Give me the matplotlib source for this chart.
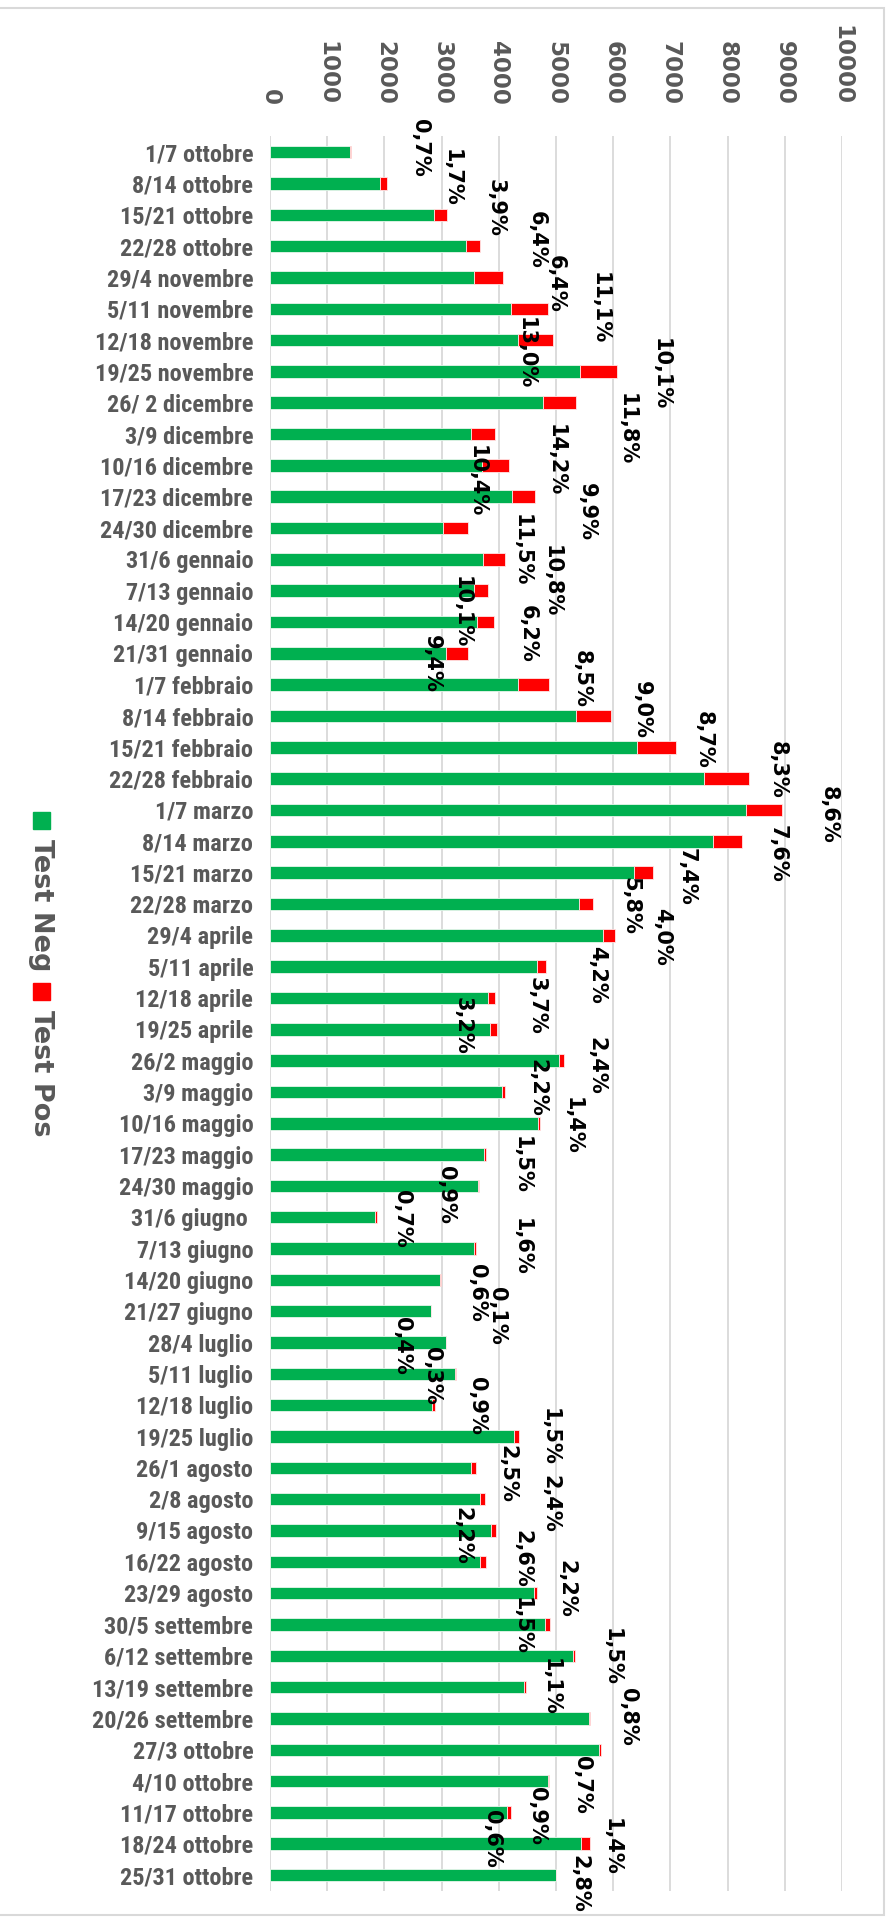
import matplotlib
matplotlib.use("Agg")
import matplotlib.pyplot as plt
import matplotlib.patches as mpatches
from matplotlib import font_manager
import numpy as np

weeks = [
    "1/7 ottobre", "8/14 ottobre", "15/21 ottobre", "22/28 ottobre",
    "29/4 novembre", "5/11 novembre", "12/18 novembre", "19/25 novembre",
    "26/ 2 dicembre", "3/9 dicembre", "10/16 dicembre", "17/23 dicembre",
    "24/30 dicembre", "31/6 gennaio", "7/13 gennaio", "14/20 gennaio",
    "21/31 gennaio", "1/7 febbraio", "8/14 febbraio", "15/21 febbraio",
    "22/28 febbraio", "1/7 marzo", "8/14 marzo", "15/21 marzo",
    "22/28 marzo", "29/4 aprile", "5/11 aprile", "12/18 aprile",
    "19/25 aprile", "26/2 maggio", "3/9 maggio", "10/16 maggio",
    "17/23 maggio", "24/30 maggio", "31/6 giugno ", "7/13 giugno",
    "14/20 giugno", "21/27 giugno", "28/4 luglio", "5/11 luglio",
    "12/18 luglio", "19/25 luglio", "26/1 agosto", "2/8 agosto",
    "9/15 agosto", "16/22 agosto", "23/29 agosto", "30/5 settembre",
    "6/12 settembre", "13/19 settembre", "20/26 settembre", "27/3 ottobre",
    "4/10 ottobre", "11/17 ottobre", "18/24 ottobre", "25/31 ottobre",
]

test_neg = [
    1400, 1930, 2870, 3425, 3560, 4215, 4330, 5425, 4765, 3515,
    3710, 4240, 3025, 3720, 3570, 3615, 3070, 4340, 5345, 6410,
    7590, 8320, 7745, 6360, 5400, 5825, 4675, 3815, 3855, 5060,
    4050, 4680, 3745, 3635, 1845, 3575, 2980, 2810, 3070, 3235,
    2835, 4260, 3510, 3680, 3865, 3680, 4610, 4815, 5300, 4445,
    5570, 5760, 4865, 4145, 5445, 4995,
]

test_pos = [
    15, 115, 220, 250, 515, 645, 625, 635, 580, 425,
    465, 385, 445, 390, 235, 305, 400, 530, 610, 695,
    790, 640, 515, 335, 240, 200, 145, 125, 110, 85,
    60, 45, 25, 25, 20, 20, 12, 8, 6, 15,
    55, 90, 85, 85, 90, 95, 65, 80, 40, 30,
    25, 30, 18, 70, 145, 5,
]

# percentage labels as they appear in the chart
pct_text = [
    "0,7%", "1,7%", "3,9%", "6,4%", "6,4%", "11,1%", "13,0%", "10,1%",
    "11,8%", "14,2%", "10,4%", "9,9%", "11,5%", "10,8%", "10,1%", "6,2%",
    "9,4%", "8,5%", "9,0%", "8,7%", "8,3%", "8,6%", "7,6%", "7,4%",
    "5,8%", "4,0%", "4,2%", "3,7%", "3,2%", "2,4%", "2,2%", "1,4%",
    "1,5%", "0,9%", "0,7%", "1,6%", "0,6%", "0,1%", "0,4%", "0,3%",
    "0,9%", "1,5%", "2,5%", "2,4%", "2,2%", "2,6%", "2,2%", "1,5%",
    "1,5%", "1,1%", "0,8%", "0,7%", "0,9%", "0,6%", "1,4%", "2,8%",
]

# where each percentage label sits (value axis, category axis)
pct_x = [
    2621, 3183, 3948, 4667, 4993, 5771, 4464, 6824,
    6235, 4993, 3614, 5549, 4405, 4928, 3359, 4503,
    2824, 5451, 6497, 7575, 8882, 9765, 8882, 7281,
    6301, 6856, 5712, 4667, 3359, 5712, 4667, 5288,
    4405, 3085, 2314, 4405, 3621, 3967, 2301, 2830,
    3621, 4895, 4144, 4895, 3359, 4405, 5190, 4405,
    5974, 4915, 6268, 5451, 4667, 3882, 5974, 5418,
]
pct_y = [
    -0.13, 0.83, 1.79, 2.79, 4.22, 4.97, 6.41, 7.10,
    8.83, 9.82, 10.51, 11.49, 12.70, 13.69, 14.68, 15.37,
    16.33, 16.81, 17.80, 18.77, 19.73, 21.17, 22.39, 23.14,
    24.07, 25.06, 26.25, 27.25, 27.90, 29.17, 29.87, 31.09,
    32.32, 33.28, 34.05, 34.94, 36.43, 37.15, 38.12, 39.05,
    40.01, 41.00, 42.20, 43.16, 44.18, 44.90, 45.86, 47.06,
    48.05, 49.00, 49.94, 52.13, 53.12, 53.84, 54.10, 55.28,
]

GREEN = "#00B050"
RED = "#FF0000"
GRAY = "#595959"

# a narrow bold face for the category names (the original looks like Calibri)
cat_path, cat_size = None, 14.5
for fam, size in [("Roboto Condensed", 17.5), ("Liberation Sans Narrow", 17),
                  ("Open Sans Condensed", 16.5), ("DejaVu Sans", 13.5)]:
    try:
        fp = font_manager.FontProperties(family=fam, weight="bold", stretch="condensed")
        path = font_manager.findfont(fp, fallback_to_default=False)
    except Exception:
        continue
    if "Narrow" in path or "Condensed" in path:
        cat_path, cat_size = path, size
        break

fig = plt.figure(figsize=(8.86, 19.25), dpi=100)
ax = fig.add_axes([0.3047, 0.0178, 0.6456, 0.9113])

y = np.arange(len(weeks))
neg = np.array(test_neg)
pos = np.array(test_pos)
ax.barh(y, neg, height=0.4, color=GREEN, edgecolor="#e8f5ec", linewidth=0.6, zorder=2)
ax.barh(y, pos, left=neg, height=0.4, color=RED, edgecolor="#ffe5e5", linewidth=0.6, zorder=2)

ax.set_xlim(0, 10000)
ax.set_ylim(len(weeks) - 0.5, -0.5)
ax.set_xticks(np.arange(0, 10001, 1000))
ax.xaxis.tick_top()
ax.tick_params(axis="x", length=0, pad=23, labelsize=16.5, labelcolor=GRAY, labelrotation=-90)
for lbl in ax.get_xticklabels():
    lbl.set_fontweight("bold")

ax.set_yticks(y)
if cat_path:
    prop = font_manager.FontProperties(fname=cat_path, size=cat_size)
    ax.set_yticklabels(weeks, fontproperties=prop, color=GRAY)
else:
    ax.set_yticklabels(weeks, family="Liberation Sans", fontweight="bold",
                       fontsize=cat_size, color=GRAY)
ax.tick_params(axis="y", length=0, pad=12)

ax.grid(axis="x", color="#D9D9D9", linewidth=1.3, zorder=0)
ax.set_axisbelow(True)
for s in ax.spines.values():
    s.set_visible(False)

for s, xv, yv in zip(pct_text, pct_x, pct_y):
    ax.text(xv, yv, s, rotation=-90, ha="center", va="center", fontsize=15,
            fontweight="bold", color="black", clip_on=False, zorder=4)

# legend (vertical, on the left)
sq_w, sq_h = 17 / 886, 17 / 1925
for cy, col, txt, ty in [(0.5740, GREEN, "Test Neg", 0.5300), (0.4850, RED, "Test Pos", 0.4425)]:
    fig.patches.append(mpatches.Rectangle((0.0474 - sq_w / 2, cy - sq_h / 2), sq_w, sq_h,
                                          transform=fig.transFigure, color=col))
    fig.text(0.0463, ty, txt, rotation=-90, ha="center", va="center", fontsize=19.5,
             fontweight="bold", color=GRAY)

# chart area border
fig.patches.append(mpatches.Rectangle((-0.01, 0.0052), 1.0077, 0.9906, transform=fig.transFigure,
                                      fill=False, edgecolor="#D9D9D9", linewidth=1.5))

fig.savefig("out.png", dpi=100)
